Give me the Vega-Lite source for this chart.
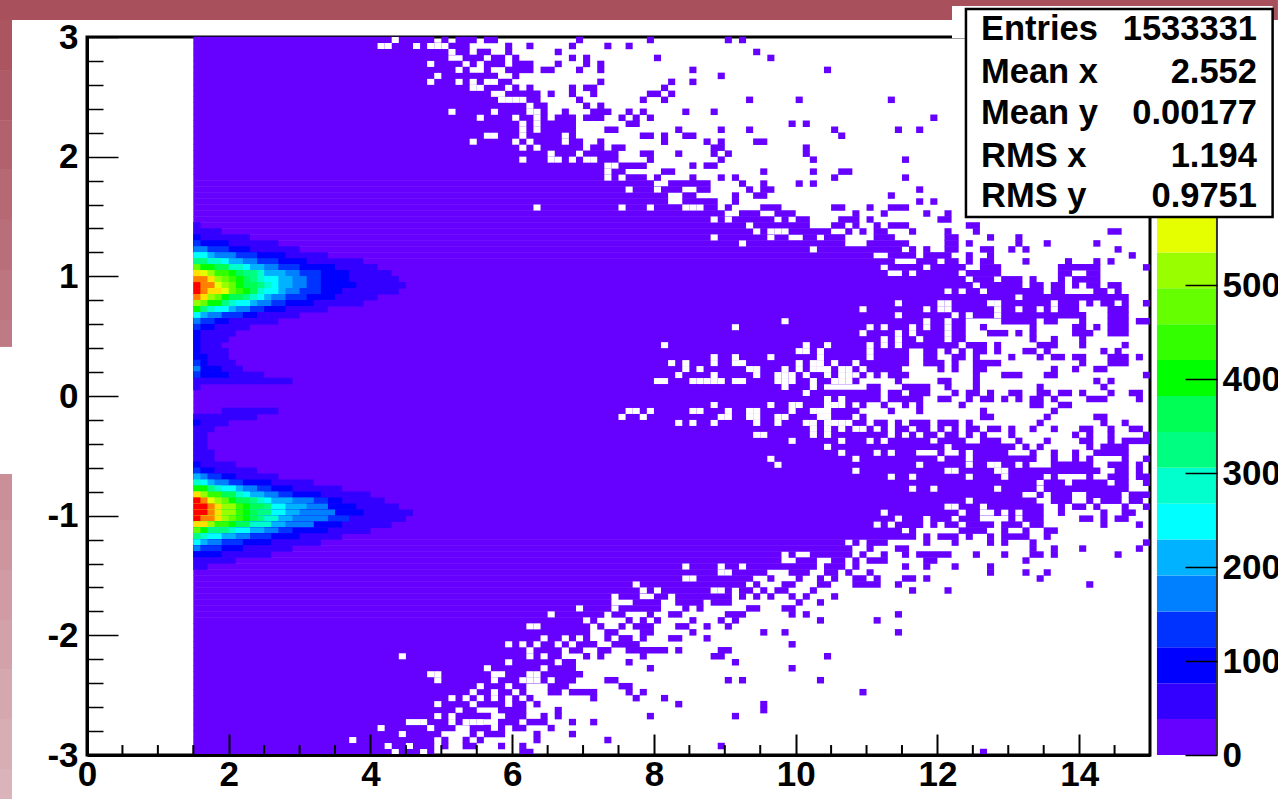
{"$schema":"https://vega.github.io/schema/vega-lite/v6.json","width":1063,"height":718,"autosize":"none","padding":{"left":87,"top":37,"right":128,"bottom":44},"background":"white","config":{"view":{"stroke":"black","strokeWidth":3},"font":"Liberation Sans"},
"datasets":{"bg":[{"x":-1.2276,"x2":16.805,"y":3.309,"y2":3.142,"s":0},{"x":-1.2276,"x2":-1.0583,"y":3.142,"y2":2.724,"s":0.05},{"x":-1.2276,"x2":-1.0583,"y":2.724,"y2":2.306,"s":0.11},{"x":-1.2276,"x2":-1.0583,"y":2.306,"y2":1.889,"s":0.18},{"x":-1.2276,"x2":-1.0583,"y":1.889,"y2":1.471,"s":0.24},{"x":-1.2276,"x2":-1.0583,"y":1.471,"y2":1.053,"s":0.3},{"x":-1.2276,"x2":-1.0583,"y":1.053,"y2":0.635,"s":0.37},{"x":-1.2276,"x2":-1.0583,"y":0.635,"y2":0.41,"s":0.42},{"x":-1.2276,"x2":-1.0583,"y":-0.652,"y2":-1.036,"s":0.62},{"x":-1.2276,"x2":-1.0583,"y":-1.036,"y2":-1.454,"s":0.68},{"x":-1.2276,"x2":-1.0583,"y":-1.454,"y2":-1.872,"s":0.74},{"x":-1.2276,"x2":-1.0583,"y":-1.872,"y2":-2.289,"s":0.8},{"x":-1.2276,"x2":-1.0583,"y":-2.289,"y2":-2.707,"s":0.86},{"x":-1.2276,"x2":-1.0583,"y":-2.707,"y2":-3.125,"s":0.92},{"x":-1.2276,"x2":-1.0583,"y":-3.125,"y2":-3.368,"s":0.98}],
"runs":[
{"x":1.5,"x2":4.9,"y":2.975},{"x":5,"x2":5.1,"y":2.975},{"x":5.2,"x2":5.5,"y":2.975},{"x":5.6,"x2":5.8,"y":2.975},{"x":6.9,"x2":7,"y":2.975},{"x":7.9,"x2":8,"y":2.975},{"x":9,"x2":9.1,"y":2.975},{"x":9.2,"x2":9.3,"y":2.975},
{"x":1.5,"x2":5.4,"y":2.925},{"x":5.9,"x2":6,"y":2.925},{"x":6.2,"x2":6.3,"y":2.925},{"x":6.8,"x2":6.9,"y":2.925},{"x":7.3,"x2":7.4,"y":2.925},{"x":7.6,"x2":7.7,"y":2.925},
{"x":1.5,"x2":5.4,"y":2.875},{"x":5.5,"x2":5.7,"y":2.875},{"x":5.9,"x2":6,"y":2.875},{"x":6.6,"x2":6.7,"y":2.875},{"x":9.4,"x2":9.5,"y":2.875},
{"x":1.5,"x2":5.1,"y":2.825},{"x":5.3,"x2":5.6,"y":2.825},{"x":5.7,"x2":5.9,"y":2.825},{"x":6,"x2":6.1,"y":2.825},{"x":6.8,"x2":6.9,"y":2.825},{"x":7,"x2":7.1,"y":2.825},{"x":8,"x2":8.1,"y":2.825},{"x":9.6,"x2":9.7,"y":2.825},
{"x":1.5,"x2":5.3,"y":2.775},{"x":5.4,"x2":5.5,"y":2.775},{"x":5.6,"x2":5.9,"y":2.775},{"x":6,"x2":6.3,"y":2.775},{"x":6.6,"x2":6.7,"y":2.775},{"x":7,"x2":7.1,"y":2.775},{"x":7.2,"x2":7.3,"y":2.775},
{"x":1.5,"x2":5.4,"y":2.725},{"x":5.6,"x2":5.7,"y":2.725},{"x":5.9,"x2":6.3,"y":2.725},{"x":6.4,"x2":6.6,"y":2.725},{"x":6.9,"x2":7,"y":2.725},{"x":7.2,"x2":7.3,"y":2.725},{"x":8.5,"x2":8.6,"y":2.725},{"x":10.4,"x2":10.5,"y":2.725},
{"x":1.5,"x2":5.8,"y":2.675},{"x":6,"x2":6.1,"y":2.675},{"x":8.9,"x2":9,"y":2.675},
{"x":1.5,"x2":6,"y":2.625},{"x":7.2,"x2":7.3,"y":2.625},{"x":8.2,"x2":8.3,"y":2.625},{"x":8.5,"x2":8.6,"y":2.625},
{"x":1.5,"x2":6.1,"y":2.575},{"x":6.2,"x2":6.3,"y":2.575},{"x":6.8,"x2":6.9,"y":2.575},{"x":7,"x2":7.2,"y":2.575},{"x":8.1,"x2":8.2,"y":2.575},
{"x":1.5,"x2":6.4,"y":2.525},{"x":6.5,"x2":6.6,"y":2.525},{"x":6.8,"x2":6.9,"y":2.525},{"x":7.1,"x2":7.2,"y":2.525},{"x":7.9,"x2":8.1,"y":2.525},{"x":8.2,"x2":8.3,"y":2.525},
{"x":1.5,"x2":6.4,"y":2.475},{"x":6.9,"x2":7,"y":2.475},{"x":7.8,"x2":7.9,"y":2.475},{"x":8.1,"x2":8.2,"y":2.475},{"x":9.3,"x2":9.4,"y":2.475},{"x":10,"x2":10.1,"y":2.475},{"x":11.3,"x2":11.4,"y":2.475},
{"x":1.5,"x2":6.5,"y":2.425},{"x":7,"x2":7.1,"y":2.425},{"x":7.2,"x2":7.3,"y":2.425},
{"x":1.5,"x2":6.5,"y":2.375},{"x":6.7,"x2":6.8,"y":2.375},{"x":7.1,"x2":7.4,"y":2.375},{"x":7.6,"x2":7.7,"y":2.375},{"x":7.8,"x2":7.9,"y":2.375},{"x":8.4,"x2":8.5,"y":2.375},{"x":8.8,"x2":8.9,"y":2.375},
{"x":1.5,"x2":6.5,"y":2.325},{"x":6.6,"x2":6.9,"y":2.325},{"x":7,"x2":7.3,"y":2.325},{"x":7.5,"x2":7.6,"y":2.325},{"x":7.7,"x2":7.8,"y":2.325},{"x":7.9,"x2":8,"y":2.325},{"x":11.9,"x2":12,"y":2.325},
{"x":1.5,"x2":6.9,"y":2.275},{"x":7.6,"x2":7.8,"y":2.275},{"x":9.9,"x2":10,"y":2.275},{"x":10.1,"x2":10.2,"y":2.275},
{"x":1.5,"x2":6.9,"y":2.225},{"x":7.3,"x2":7.5,"y":2.225},{"x":8.3,"x2":8.4,"y":2.225},{"x":8.9,"x2":9,"y":2.225},{"x":9.3,"x2":9.4,"y":2.225},{"x":10.5,"x2":10.6,"y":2.225},{"x":11.4,"x2":11.5,"y":2.225},{"x":11.7,"x2":11.8,"y":2.225},
{"x":1.5,"x2":6.9,"y":2.175},{"x":7.8,"x2":8,"y":2.175},{"x":8.1,"x2":8.2,"y":2.175},{"x":8.4,"x2":8.6,"y":2.175},{"x":10.6,"x2":10.7,"y":2.175},
{"x":1.5,"x2":7,"y":2.125},{"x":7.2,"x2":7.3,"y":2.125},{"x":8.1,"x2":8.2,"y":2.125},{"x":8.7,"x2":8.8,"y":2.125},{"x":8.9,"x2":9,"y":2.125},{"x":9.4,"x2":9.6,"y":2.125},
{"x":1.5,"x2":7,"y":2.075},{"x":7.1,"x2":7.3,"y":2.075},{"x":7.4,"x2":7.6,"y":2.075},{"x":8.8,"x2":9,"y":2.075},{"x":10.1,"x2":10.2,"y":2.075},
{"x":1.5,"x2":7.5,"y":2.025},{"x":7.8,"x2":8,"y":2.025},{"x":8.3,"x2":8.4,"y":2.025},{"x":8.8,"x2":8.9,"y":2.025},{"x":9,"x2":9.1,"y":2.025},{"x":10.1,"x2":10.2,"y":2.025},
{"x":1.5,"x2":7.5,"y":1.975},{"x":7.9,"x2":8,"y":1.975},{"x":8.9,"x2":9,"y":1.975},{"x":10.2,"x2":10.3,"y":1.975},{"x":11.5,"x2":11.6,"y":1.975},
{"x":1.5,"x2":7.9,"y":1.925},{"x":8.5,"x2":8.6,"y":1.925},{"x":8.7,"x2":8.9,"y":1.925},
{"x":1.5,"x2":7.6,"y":1.875},{"x":8.1,"x2":8.3,"y":1.875},{"x":9.5,"x2":9.6,"y":1.875},{"x":10.2,"x2":10.3,"y":1.875},{"x":10.6,"x2":10.8,"y":1.875},
{"x":1.5,"x2":7.9,"y":1.825},{"x":8,"x2":8.1,"y":1.825},{"x":8.5,"x2":8.6,"y":1.825},{"x":8.9,"x2":9,"y":1.825},{"x":9.1,"x2":9.2,"y":1.825},{"x":10.5,"x2":10.6,"y":1.825},{"x":11.5,"x2":11.6,"y":1.825},
{"x":1.5,"x2":8,"y":1.775},{"x":8.2,"x2":8.8,"y":1.775},{"x":9.2,"x2":9.3,"y":1.775},{"x":9.5,"x2":9.6,"y":1.775},{"x":10,"x2":10.1,"y":1.775},{"x":10.2,"x2":10.3,"y":1.775},
{"x":1.5,"x2":8.4,"y":1.725},{"x":8.6,"x2":8.8,"y":1.725},{"x":9.3,"x2":9.4,"y":1.725},{"x":9.5,"x2":9.7,"y":1.725},{"x":11.7,"x2":11.8,"y":1.725},
{"x":1.5,"x2":8.2,"y":1.675},{"x":8.4,"x2":8.6,"y":1.675},{"x":9.1,"x2":9.2,"y":1.675},{"x":9.4,"x2":9.6,"y":1.675},{"x":11.3,"x2":11.4,"y":1.675},
{"x":1.5,"x2":8.2,"y":1.625},{"x":8.4,"x2":8.9,"y":1.625},{"x":9.1,"x2":9.2,"y":1.625},{"x":11.7,"x2":11.8,"y":1.625},{"x":11.9,"x2":12,"y":1.625},
{"x":1.5,"x2":8.9,"y":1.575},{"x":9,"x2":9.1,"y":1.575},{"x":9.5,"x2":9.8,"y":1.575},{"x":10.5,"x2":10.7,"y":1.575},{"x":11,"x2":11.1,"y":1.575},{"x":11.3,"x2":11.6,"y":1.575},
{"x":1.5,"x2":9,"y":1.525},{"x":9.2,"x2":9.5,"y":1.525},{"x":9.7,"x2":10,"y":1.525},{"x":10.8,"x2":10.9,"y":1.525},{"x":11.2,"x2":11.3,"y":1.525},{"x":11.8,"x2":11.9,"y":1.525},{"x":12.1,"x2":12.2,"y":1.525},
{"x":1.5,"x2":9.7,"y":1.475},{"x":9.8,"x2":9.9,"y":1.475},{"x":10,"x2":10.2,"y":1.475},{"x":10.6,"x2":10.9,"y":1.475},{"x":11,"x2":11.1,"y":1.475},{"x":12,"x2":12.2,"y":1.475},
{"x":1.5,"x2":10.2,"y":1.425},{"x":10.5,"x2":10.7,"y":1.425},{"x":10.8,"x2":10.9,"y":1.425},{"x":11.1,"x2":11.2,"y":1.425},{"x":11.3,"x2":11.6,"y":1.425},{"x":12.4,"x2":12.6,"y":1.425},
{"x":1.5,"x2":10.5,"y":1.375},{"x":10.7,"x2":10.8,"y":1.375},{"x":10.9,"x2":11,"y":1.375},{"x":11.1,"x2":11.3,"y":1.375},{"x":11.6,"x2":11.7,"y":1.375},{"x":12.1,"x2":12.2,"y":1.375},{"x":12.5,"x2":12.6,"y":1.375},{"x":14.4,"x2":14.6,"y":1.375},
{"x":1.5,"x2":9.6,"y":1.325},{"x":9.7,"x2":9.9,"y":1.325},{"x":10.1,"x2":10.3,"y":1.325},{"x":10.4,"x2":10.7,"y":1.325},{"x":11.1,"x2":11.4,"y":1.325},{"x":12.1,"x2":12.3,"y":1.325},{"x":12.7,"x2":12.8,"y":1.325},{"x":13.1,"x2":13.2,"y":1.325},
{"x":1.5,"x2":10.7,"y":1.275},{"x":11,"x2":11.6,"y":1.275},{"x":12.1,"x2":12.3,"y":1.275},{"x":12.4,"x2":12.5,"y":1.275},{"x":13.1,"x2":13.2,"y":1.275},{"x":13.5,"x2":13.6,"y":1.275},{"x":14.2,"x2":14.3,"y":1.275},
{"x":1.5,"x2":11.5,"y":1.225},{"x":11.6,"x2":11.7,"y":1.225},{"x":11.8,"x2":11.9,"y":1.225},{"x":12.1,"x2":12.3,"y":1.225},{"x":12.6,"x2":12.8,"y":1.225},{"x":13,"x2":13.1,"y":1.225},{"x":13.2,"x2":13.3,"y":1.225},{"x":14.5,"x2":14.6,"y":1.225},
{"x":1.5,"x2":11.1,"y":1.175},{"x":11.3,"x2":11.7,"y":1.175},{"x":11.8,"x2":12.2,"y":1.175},{"x":12.4,"x2":12.5,"y":1.175},{"x":12.7,"x2":12.8,"y":1.175},{"x":14.7,"x2":14.8,"y":1.175},
{"x":1.5,"x2":11.4,"y":1.125},{"x":11.7,"x2":12,"y":1.125},{"x":12.1,"x2":12.3,"y":1.125},{"x":12.4,"x2":12.5,"y":1.125},{"x":12.6,"x2":12.8,"y":1.125},{"x":13.2,"x2":13.3,"y":1.125},{"x":13.8,"x2":13.9,"y":1.125},{"x":14.2,"x2":14.3,"y":1.125},{"x":14.4,"x2":14.5,"y":1.125},
{"x":1.5,"x2":11.2,"y":1.075},{"x":11.3,"x2":11.8,"y":1.075},{"x":11.9,"x2":12.4,"y":1.075},{"x":12.6,"x2":12.9,"y":1.075},{"x":13.7,"x2":14.3,"y":1.075},{"x":14.9,"x2":15,"y":1.075},
{"x":1.5,"x2":11.3,"y":1.025},{"x":11.5,"x2":11.6,"y":1.025},{"x":11.7,"x2":12.3,"y":1.025},{"x":12.4,"x2":12.9,"y":1.025},{"x":13.7,"x2":13.9,"y":1.025},{"x":14.1,"x2":14.3,"y":1.025},
{"x":1.5,"x2":12.4,"y":0.975},{"x":12.5,"x2":12.8,"y":0.975},{"x":12.9,"x2":13.2,"y":0.975},{"x":13.3,"x2":13.4,"y":0.975},{"x":13.7,"x2":13.8,"y":0.975},{"x":13.9,"x2":14.3,"y":0.975},
{"x":1.5,"x2":12.5,"y":0.925},{"x":12.6,"x2":13.2,"y":0.925},{"x":13.3,"x2":13.5,"y":0.925},{"x":13.6,"x2":13.8,"y":0.925},{"x":13.9,"x2":14,"y":0.925},{"x":14.1,"x2":14.3,"y":0.925},{"x":14.4,"x2":14.6,"y":0.925},
{"x":1.5,"x2":12.1,"y":0.875},{"x":12.2,"x2":12.3,"y":0.875},{"x":12.4,"x2":12.6,"y":0.875},{"x":12.7,"x2":13.5,"y":0.875},{"x":13.6,"x2":13.8,"y":0.875},{"x":14.2,"x2":14.4,"y":0.875},{"x":14.5,"x2":14.6,"y":0.875},
{"x":1.5,"x2":13.1,"y":0.825},{"x":13.2,"x2":14.7,"y":0.825},
{"x":1.5,"x2":14,"y":0.775},{"x":14.1,"x2":14.2,"y":0.775},{"x":14.3,"x2":14.5,"y":0.775},{"x":14.6,"x2":14.7,"y":0.775},{"x":14.9,"x2":15,"y":0.775},
{"x":1.5,"x2":14,"y":0.725},{"x":14.4,"x2":14.7,"y":0.725},
{"x":1.5,"x2":14.1,"y":0.675},{"x":14.4,"x2":14.7,"y":0.675},
{"x":1.5,"x2":12.4,"y":0.625},{"x":12.9,"x2":13.4,"y":0.625},{"x":13.5,"x2":13.7,"y":0.625},{"x":14,"x2":14.1,"y":0.625},{"x":14.4,"x2":14.7,"y":0.625},{"x":14.8,"x2":15,"y":0.625},
{"x":1.5,"x2":12.4,"y":0.575},{"x":12.6,"x2":12.7,"y":0.575},{"x":13.3,"x2":13.4,"y":0.575},{"x":13.9,"x2":14.1,"y":0.575},{"x":14.2,"x2":14.3,"y":0.575},{"x":14.4,"x2":14.7,"y":0.575},
{"x":1.5,"x2":12.4,"y":0.525},{"x":12.7,"x2":13,"y":0.525},{"x":13.1,"x2":13.2,"y":0.525},{"x":13.3,"x2":13.4,"y":0.525},{"x":13.9,"x2":14.2,"y":0.525},{"x":14.4,"x2":14.7,"y":0.525},
{"x":1.5,"x2":12.4,"y":0.475},{"x":13.3,"x2":13.4,"y":0.475},{"x":13.6,"x2":13.7,"y":0.475},{"x":14,"x2":14.1,"y":0.475},
{"x":1.5,"x2":12.7,"y":0.425},{"x":12.8,"x2":12.9,"y":0.425},{"x":13.4,"x2":13.7,"y":0.425},{"x":14,"x2":14.1,"y":0.425},{"x":14.6,"x2":14.7,"y":0.425},
{"x":1.5,"x2":11.6,"y":0.375},{"x":11.8,"x2":12,"y":0.375},{"x":12.1,"x2":12.2,"y":0.375},{"x":12.3,"x2":12.4,"y":0.375},{"x":12.5,"x2":12.7,"y":0.375},{"x":12.8,"x2":12.9,"y":0.375},{"x":13.2,"x2":13.4,"y":0.375},{"x":13.5,"x2":13.6,"y":0.375},{"x":14.3,"x2":14.4,"y":0.375},{"x":14.5,"x2":14.6,"y":0.375},
{"x":1.5,"x2":11.6,"y":0.325},{"x":11.8,"x2":12,"y":0.325},{"x":12.2,"x2":12.4,"y":0.325},{"x":12.5,"x2":12.6,"y":0.325},{"x":13,"x2":13.1,"y":0.325},{"x":13.4,"x2":13.5,"y":0.325},{"x":13.6,"x2":13.8,"y":0.325},{"x":13.9,"x2":14.1,"y":0.325},{"x":14.4,"x2":14.7,"y":0.325},{"x":14.8,"x2":14.9,"y":0.325},
{"x":1.5,"x2":11.6,"y":0.275},{"x":11.8,"x2":12.1,"y":0.275},{"x":12.2,"x2":12.3,"y":0.275},{"x":12.5,"x2":12.9,"y":0.275},{"x":14,"x2":14.1,"y":0.275},{"x":14.4,"x2":14.7,"y":0.275},
{"x":1.5,"x2":11.5,"y":0.225},{"x":12,"x2":12.1,"y":0.225},{"x":12.2,"x2":12.3,"y":0.225},{"x":12.5,"x2":12.7,"y":0.225},{"x":13.6,"x2":13.7,"y":0.225},{"x":13.9,"x2":14,"y":0.225},{"x":14.2,"x2":14.4,"y":0.225},
{"x":1.5,"x2":10.8,"y":0.175},{"x":10.9,"x2":11,"y":0.175},{"x":11.1,"x2":11.2,"y":0.175},{"x":11.3,"x2":11.6,"y":0.175},{"x":12.5,"x2":12.6,"y":0.175},{"x":12.9,"x2":13.2,"y":0.175},{"x":13.5,"x2":13.7,"y":0.175},{"x":14.9,"x2":15,"y":0.175},
{"x":1.5,"x2":10.9,"y":0.125},{"x":11.4,"x2":11.5,"y":0.125},{"x":12,"x2":12.2,"y":0.125},{"x":12.5,"x2":12.6,"y":0.125},{"x":14.2,"x2":14.3,"y":0.125},{"x":14.4,"x2":14.5,"y":0.125},
{"x":1.5,"x2":10.4,"y":0.075},{"x":11,"x2":11.2,"y":0.075},{"x":11.5,"x2":11.9,"y":0.075},{"x":12.1,"x2":12.2,"y":0.075},{"x":12.5,"x2":12.6,"y":0.075},{"x":13.4,"x2":13.5,"y":0.075},{"x":14.3,"x2":14.4,"y":0.075},
{"x":1.5,"x2":11.2,"y":0.025},{"x":11.3,"x2":11.5,"y":0.025},{"x":11.6,"x2":11.9,"y":0.025},{"x":12.2,"x2":12.3,"y":0.025},{"x":12.4,"x2":12.6,"y":0.025},{"x":12.7,"x2":12.8,"y":0.025},{"x":13,"x2":13.2,"y":0.025},{"x":13.4,"x2":13.6,"y":0.025},{"x":13.7,"x2":13.9,"y":0.025},{"x":14,"x2":14.1,"y":0.025},{"x":14.4,"x2":14.5,"y":0.025},{"x":14.7,"x2":14.9,"y":0.025},
{"x":1.5,"x2":11.2,"y":-0.025},{"x":11.3,"x2":11.8,"y":-0.025},{"x":12,"x2":12.2,"y":-0.025},{"x":12.4,"x2":12.5,"y":-0.025},{"x":12.6,"x2":12.8,"y":-0.025},{"x":12.9,"x2":13,"y":-0.025},{"x":13.1,"x2":13.2,"y":-0.025},{"x":13.3,"x2":13.5,"y":-0.025},{"x":13.6,"x2":13.7,"y":-0.025},{"x":14.1,"x2":14.4,"y":-0.025},{"x":14.8,"x2":14.9,"y":-0.025},
{"x":1.5,"x2":10.8,"y":-0.075},{"x":10.9,"x2":11,"y":-0.075},{"x":11.2,"x2":11.3,"y":-0.075},{"x":11.5,"x2":11.6,"y":-0.075},{"x":11.7,"x2":11.8,"y":-0.075},{"x":12.3,"x2":12.4,"y":-0.075},{"x":13.3,"x2":13.5,"y":-0.075},{"x":13.7,"x2":13.9,"y":-0.075},
{"x":1.5,"x2":10.9,"y":-0.125},{"x":11.3,"x2":11.4,"y":-0.125},{"x":11.7,"x2":11.8,"y":-0.125},{"x":12.6,"x2":12.7,"y":-0.125},{"x":13.6,"x2":13.7,"y":-0.125},
{"x":1.5,"x2":11,"y":-0.175},{"x":12.6,"x2":12.8,"y":-0.175},{"x":13.5,"x2":13.6,"y":-0.175},{"x":14.2,"x2":14.4,"y":-0.175},
{"x":1.5,"x2":11,"y":-0.225},{"x":11.1,"x2":11.3,"y":-0.225},{"x":11.4,"x2":11.5,"y":-0.225},{"x":11.6,"x2":11.9,"y":-0.225},{"x":12,"x2":12.3,"y":-0.225},{"x":12.4,"x2":12.5,"y":-0.225},{"x":13.4,"x2":13.5,"y":-0.225},{"x":14.3,"x2":14.4,"y":-0.225},{"x":14.6,"x2":14.7,"y":-0.225},
{"x":1.5,"x2":11.1,"y":-0.275},{"x":11.2,"x2":11.3,"y":-0.275},{"x":11.4,"x2":11.6,"y":-0.275},{"x":11.7,"x2":11.9,"y":-0.275},{"x":12,"x2":12.1,"y":-0.275},{"x":12.2,"x2":12.3,"y":-0.275},{"x":12.4,"x2":12.6,"y":-0.275},{"x":12.7,"x2":12.9,"y":-0.275},{"x":13,"x2":13.1,"y":-0.275},{"x":13.3,"x2":13.4,"y":-0.275},{"x":13.6,"x2":13.7,"y":-0.275},{"x":14,"x2":14.2,"y":-0.275},{"x":14.4,"x2":14.5,"y":-0.275},{"x":14.7,"x2":14.9,"y":-0.275},
{"x":1.5,"x2":11.3,"y":-0.325},{"x":11.4,"x2":11.5,"y":-0.325},{"x":11.6,"x2":11.7,"y":-0.325},{"x":11.8,"x2":12,"y":-0.325},{"x":12.1,"x2":12.3,"y":-0.325},{"x":12.4,"x2":12.5,"y":-0.325},{"x":12.6,"x2":12.7,"y":-0.325},{"x":13,"x2":13.1,"y":-0.325},{"x":13.9,"x2":14,"y":-0.325},{"x":14.1,"x2":14.2,"y":-0.325},{"x":14.4,"x2":14.5,"y":-0.325},{"x":14.9,"x2":15,"y":-0.325},
{"x":1.5,"x2":11.9,"y":-0.375},{"x":12,"x2":12.4,"y":-0.375},{"x":12.6,"x2":12.9,"y":-0.375},{"x":13.1,"x2":13.2,"y":-0.375},{"x":13.5,"x2":13.6,"y":-0.375},{"x":14,"x2":14.2,"y":-0.375},{"x":14.4,"x2":14.5,"y":-0.375},{"x":14.6,"x2":15,"y":-0.375},
{"x":1.5,"x2":12.1,"y":-0.425},{"x":12.2,"x2":13.1,"y":-0.425},{"x":13.2,"x2":13.3,"y":-0.425},{"x":13.4,"x2":13.5,"y":-0.425},{"x":14.1,"x2":14.2,"y":-0.425},{"x":14.3,"x2":14.7,"y":-0.425},
{"x":1.5,"x2":11.7,"y":-0.475},{"x":12,"x2":12.1,"y":-0.475},{"x":12.3,"x2":12.4,"y":-0.475},{"x":12.5,"x2":13,"y":-0.475},{"x":13.3,"x2":13.4,"y":-0.475},{"x":13.6,"x2":13.7,"y":-0.475},{"x":13.9,"x2":14,"y":-0.475},{"x":14.2,"x2":14.7,"y":-0.475},
{"x":1.5,"x2":12,"y":-0.525},{"x":12.1,"x2":12.4,"y":-0.525},{"x":12.5,"x2":13.4,"y":-0.525},{"x":13.6,"x2":13.7,"y":-0.525},{"x":13.9,"x2":14,"y":-0.525},{"x":14.1,"x2":14.2,"y":-0.525},{"x":14.6,"x2":14.7,"y":-0.525},{"x":14.9,"x2":15,"y":-0.525},
{"x":1.5,"x2":13.3,"y":-0.575},{"x":13.6,"x2":14.2,"y":-0.575},{"x":14.4,"x2":14.7,"y":-0.575},{"x":14.8,"x2":14.9,"y":-0.575},
{"x":1.5,"x2":14.3,"y":-0.625},{"x":14.5,"x2":14.7,"y":-0.625},{"x":14.8,"x2":14.9,"y":-0.625},
{"x":1.5,"x2":13.5,"y":-0.675},{"x":13.6,"x2":13.7,"y":-0.675},{"x":14.1,"x2":14.2,"y":-0.675},{"x":14.4,"x2":14.7,"y":-0.675},{"x":14.8,"x2":15,"y":-0.675},
{"x":1.5,"x2":13.4,"y":-0.725},{"x":13.5,"x2":13.8,"y":-0.725},{"x":13.9,"x2":14.4,"y":-0.725},{"x":14.5,"x2":14.7,"y":-0.725},{"x":14.9,"x2":15,"y":-0.725},
{"x":1.5,"x2":14.7,"y":-0.775},
{"x":1.5,"x2":13.2,"y":-0.825},{"x":13.4,"x2":13.5,"y":-0.825},{"x":13.6,"x2":13.9,"y":-0.825},{"x":14.1,"x2":14.6,"y":-0.825},{"x":14.7,"x2":15,"y":-0.825},
{"x":1.5,"x2":13.4,"y":-0.875},{"x":13.6,"x2":13.9,"y":-0.875},{"x":14.1,"x2":14.2,"y":-0.875},{"x":14.3,"x2":14.6,"y":-0.875},{"x":14.7,"x2":14.9,"y":-0.875},
{"x":1.5,"x2":13.5,"y":-0.925},{"x":13.7,"x2":13.8,"y":-0.925},{"x":13.9,"x2":14.1,"y":-0.925},{"x":14.2,"x2":14.3,"y":-0.925},{"x":14.6,"x2":14.7,"y":-0.925},{"x":14.9,"x2":15,"y":-0.925},
{"x":1.5,"x2":13.5,"y":-0.975},{"x":13.7,"x2":13.8,"y":-0.975},{"x":14.3,"x2":14.4,"y":-0.975},{"x":14.6,"x2":14.8,"y":-0.975},
{"x":1.5,"x2":11.8,"y":-1.025},{"x":11.9,"x2":12.2,"y":-1.025},{"x":12.3,"x2":12.6,"y":-1.025},{"x":13,"x2":13.1,"y":-1.025},{"x":13.2,"x2":13.5,"y":-1.025},{"x":14,"x2":14.2,"y":-1.025},{"x":14.3,"x2":14.4,"y":-1.025},{"x":14.5,"x2":14.7,"y":-1.025},
{"x":1.5,"x2":11.8,"y":-1.075},{"x":11.9,"x2":12,"y":-1.075},{"x":12.1,"x2":12.3,"y":-1.075},{"x":12.4,"x2":12.8,"y":-1.075},{"x":12.9,"x2":13.2,"y":-1.075},{"x":13.3,"x2":13.5,"y":-1.075},{"x":14.3,"x2":14.4,"y":-1.075},{"x":14.8,"x2":14.9,"y":-1.075},
{"x":1.5,"x2":11.5,"y":-1.125},{"x":11.6,"x2":11.7,"y":-1.125},{"x":12.3,"x2":12.7,"y":-1.125},{"x":12.9,"x2":13,"y":-1.125},{"x":13.2,"x2":13.3,"y":-1.125},{"x":13.5,"x2":13.7,"y":-1.125},
{"x":1.5,"x2":11.7,"y":-1.175},{"x":11.8,"x2":11.9,"y":-1.175},{"x":12,"x2":12.3,"y":-1.175},{"x":12.4,"x2":12.5,"y":-1.175},{"x":12.7,"x2":12.8,"y":-1.175},{"x":12.9,"x2":13.3,"y":-1.175},{"x":13.5,"x2":13.6,"y":-1.175},
{"x":1.5,"x2":10.7,"y":-1.225},{"x":10.8,"x2":10.9,"y":-1.225},{"x":11,"x2":11.3,"y":-1.225},{"x":11.8,"x2":11.9,"y":-1.225},{"x":12.2,"x2":12.3,"y":-1.225},{"x":12.7,"x2":12.8,"y":-1.225},{"x":12.9,"x2":13,"y":-1.225},{"x":13.3,"x2":13.4,"y":-1.225},{"x":14.9,"x2":15,"y":-1.225},
{"x":1.5,"x2":10.8,"y":-1.275},{"x":11,"x2":11.1,"y":-1.275},{"x":11.4,"x2":11.6,"y":-1.275},{"x":13.3,"x2":13.4,"y":-1.275},{"x":13.6,"x2":13.7,"y":-1.275},{"x":14,"x2":14.1,"y":-1.275},{"x":14.8,"x2":14.9,"y":-1.275},
{"x":1.5,"x2":9.8,"y":-1.325},{"x":9.9,"x2":10,"y":-1.325},{"x":10.2,"x2":10.8,"y":-1.325},{"x":10.9,"x2":11,"y":-1.325},{"x":11.2,"x2":11.3,"y":-1.325},{"x":11.5,"x2":11.6,"y":-1.325},{"x":11.7,"x2":12.2,"y":-1.325},{"x":12.5,"x2":12.6,"y":-1.325},{"x":12.9,"x2":13,"y":-1.325},{"x":13.3,"x2":13.5,"y":-1.325},{"x":13.6,"x2":13.7,"y":-1.325},{"x":14.5,"x2":14.6,"y":-1.325},
{"x":1.5,"x2":9.8,"y":-1.375},{"x":10,"x2":10.3,"y":-1.375},{"x":10.5,"x2":10.7,"y":-1.375},{"x":10.8,"x2":10.9,"y":-1.375},{"x":11,"x2":11.3,"y":-1.375},{"x":11.8,"x2":12,"y":-1.375},{"x":13.2,"x2":13.3,"y":-1.375},
{"x":1.5,"x2":10.3,"y":-1.425},{"x":10.4,"x2":10.7,"y":-1.425},{"x":10.8,"x2":10.9,"y":-1.425},{"x":11.5,"x2":11.6,"y":-1.425},{"x":11.8,"x2":11.9,"y":-1.425},{"x":12.2,"x2":12.3,"y":-1.425},{"x":12.7,"x2":12.8,"y":-1.425},
{"x":1.5,"x2":9.6,"y":-1.475},{"x":9.9,"x2":10.2,"y":-1.475},{"x":10.4,"x2":10.6,"y":-1.475},{"x":10.7,"x2":10.8,"y":-1.475},{"x":11,"x2":11.1,"y":-1.475},{"x":12.7,"x2":12.8,"y":-1.475},{"x":13.2,"x2":13.3,"y":-1.475},{"x":13.5,"x2":13.6,"y":-1.475},
{"x":1.5,"x2":9.4,"y":-1.525},{"x":9.6,"x2":9.7,"y":-1.525},{"x":10,"x2":10.1,"y":-1.525},{"x":10.3,"x2":10.4,"y":-1.525},{"x":10.5,"x2":10.6,"y":-1.525},{"x":10.8,"x2":11,"y":-1.525},{"x":11.1,"x2":11.2,"y":-1.525},{"x":11.5,"x2":11.7,"y":-1.525},{"x":11.8,"x2":11.9,"y":-1.525},{"x":13.4,"x2":13.5,"y":-1.525},
{"x":1.5,"x2":9.3,"y":-1.575},{"x":9.4,"x2":9.5,"y":-1.575},{"x":9.8,"x2":10,"y":-1.575},{"x":10.3,"x2":10.5,"y":-1.575},{"x":10.8,"x2":11.2,"y":-1.575},{"x":11.4,"x2":11.5,"y":-1.575},{"x":14.1,"x2":14.2,"y":-1.575},
{"x":1.5,"x2":9.1,"y":-1.625},{"x":9.2,"x2":9.4,"y":-1.625},{"x":9.5,"x2":9.6,"y":-1.625},{"x":9.7,"x2":9.9,"y":-1.625},{"x":10.2,"x2":10.3,"y":-1.625},{"x":11.6,"x2":11.7,"y":-1.625},{"x":12.1,"x2":12.2,"y":-1.625},
{"x":1.5,"x2":7.4,"y":-1.675},{"x":7.5,"x2":7.8,"y":-1.675},{"x":8,"x2":8.2,"y":-1.675},{"x":8.3,"x2":9.1,"y":-1.675},{"x":9.2,"x2":9.3,"y":-1.675},{"x":9.4,"x2":9.5,"y":-1.675},{"x":9.6,"x2":9.7,"y":-1.675},{"x":9.9,"x2":10,"y":-1.675},{"x":10.1,"x2":10.2,"y":-1.675},{"x":10.5,"x2":10.6,"y":-1.675},
{"x":1.5,"x2":7.4,"y":-1.725},{"x":7.7,"x2":8.1,"y":-1.725},{"x":8.3,"x2":8.7,"y":-1.725},{"x":8.8,"x2":9.1,"y":-1.725},{"x":10,"x2":10.1,"y":-1.725},{"x":10.3,"x2":10.4,"y":-1.725},
{"x":1.5,"x2":8.1,"y":-1.775},{"x":8.4,"x2":8.5,"y":-1.775},{"x":8.6,"x2":8.7,"y":-1.775},{"x":9.3,"x2":9.5,"y":-1.775},{"x":9.8,"x2":10,"y":-1.775},
{"x":1.5,"x2":7.3,"y":-1.825},{"x":7.4,"x2":7.6,"y":-1.825},{"x":7.9,"x2":8,"y":-1.825},{"x":8.2,"x2":8.4,"y":-1.825},{"x":9,"x2":9.3,"y":-1.825},{"x":9.9,"x2":10,"y":-1.825},{"x":10.1,"x2":10.2,"y":-1.825},{"x":11.4,"x2":11.5,"y":-1.825},
{"x":1.5,"x2":7.2,"y":-1.875},{"x":7.6,"x2":7.7,"y":-1.875},{"x":7.8,"x2":7.9,"y":-1.875},{"x":8,"x2":8.1,"y":-1.875},{"x":8.5,"x2":8.6,"y":-1.875},{"x":8.9,"x2":9,"y":-1.875},{"x":9.1,"x2":9.2,"y":-1.875},{"x":10.3,"x2":10.4,"y":-1.875},{"x":11.1,"x2":11.2,"y":-1.875},
{"x":1.5,"x2":7.1,"y":-1.925},{"x":7.2,"x2":7.3,"y":-1.925},{"x":7.5,"x2":7.6,"y":-1.925},{"x":7.7,"x2":8,"y":-1.925},{"x":8.3,"x2":8.5,"y":-1.925},{"x":8.7,"x2":8.8,"y":-1.925},{"x":9,"x2":9.1,"y":-1.925},
{"x":1.5,"x2":7.1,"y":-1.975},{"x":7.3,"x2":7.5,"y":-1.975},{"x":7.8,"x2":8,"y":-1.975},{"x":8.5,"x2":8.6,"y":-1.975},{"x":9.5,"x2":9.6,"y":-1.975},{"x":9.8,"x2":9.9,"y":-1.975},{"x":11.4,"x2":11.5,"y":-1.975},
{"x":1.5,"x2":7.1,"y":-2.025},{"x":7.3,"x2":7.4,"y":-2.025},{"x":7.5,"x2":7.7,"y":-2.025},{"x":7.8,"x2":7.9,"y":-2.025},{"x":8.2,"x2":8.4,"y":-2.025},{"x":8.7,"x2":8.8,"y":-2.025},
{"x":1.5,"x2":7.2,"y":-2.075},{"x":7.4,"x2":7.8,"y":-2.075},{"x":9.9,"x2":10,"y":-2.075},
{"x":1.5,"x2":6.7,"y":-2.125},{"x":6.8,"x2":7,"y":-2.125},{"x":7.2,"x2":7.4,"y":-2.125},{"x":7.6,"x2":8.2,"y":-2.125},{"x":8.3,"x2":8.4,"y":-2.125},{"x":8.9,"x2":9.1,"y":-2.125},
{"x":1.5,"x2":6.7,"y":-2.175},{"x":7,"x2":7.1,"y":-2.175},{"x":7.2,"x2":7.3,"y":-2.175},{"x":7.8,"x2":7.9,"y":-2.175},{"x":8.8,"x2":9,"y":-2.175},{"x":10.4,"x2":10.5,"y":-2.175},
{"x":1.5,"x2":6.9,"y":-2.225},{"x":7.6,"x2":7.7,"y":-2.225},{"x":9.1,"x2":9.2,"y":-2.225},
{"x":1.5,"x2":6.9,"y":-2.275},{"x":7.9,"x2":8,"y":-2.275},{"x":9.9,"x2":10,"y":-2.275},
{"x":1.5,"x2":7,"y":-2.325},
{"x":1.5,"x2":6.9,"y":-2.375},{"x":7.3,"x2":7.5,"y":-2.375},{"x":9,"x2":9.1,"y":-2.375},{"x":9.2,"x2":9.3,"y":-2.375},{"x":10.3,"x2":10.4,"y":-2.375},
{"x":1.5,"x2":6.2,"y":-2.425},{"x":6.5,"x2":6.8,"y":-2.425},{"x":7.5,"x2":7.7,"y":-2.425},
{"x":1.5,"x2":6.2,"y":-2.475},{"x":6.5,"x2":6.7,"y":-2.475},{"x":6.8,"x2":7.2,"y":-2.475},{"x":7.6,"x2":7.7,"y":-2.475},{"x":7.8,"x2":7.9,"y":-2.475},{"x":10.9,"x2":11,"y":-2.475},
{"x":1.5,"x2":5.9,"y":-2.525},{"x":6,"x2":6.1,"y":-2.525},{"x":6.2,"x2":6.3,"y":-2.525},{"x":7.1,"x2":7.2,"y":-2.525},{"x":7.7,"x2":7.8,"y":-2.525},{"x":8.1,"x2":8.2,"y":-2.525},
{"x":1.5,"x2":5.9,"y":-2.575},{"x":6,"x2":6.2,"y":-2.575},{"x":6.3,"x2":6.4,"y":-2.575},{"x":8.3,"x2":8.4,"y":-2.575},{"x":9.5,"x2":9.6,"y":-2.575},
{"x":1.5,"x2":5.2,"y":-2.625},{"x":5.3,"x2":5.5,"y":-2.625},{"x":5.8,"x2":6.2,"y":-2.625},{"x":6.6,"x2":6.7,"y":-2.625},{"x":9.5,"x2":9.6,"y":-2.625},
{"x":1.5,"x2":5.7,"y":-2.675},{"x":5.9,"x2":6.2,"y":-2.675},{"x":6.4,"x2":6.5,"y":-2.675},{"x":6.6,"x2":6.7,"y":-2.675},{"x":7.9,"x2":8,"y":-2.675},{"x":9.1,"x2":9.2,"y":-2.675},
{"x":1.5,"x2":5.6,"y":-2.725},{"x":5.8,"x2":6.1,"y":-2.725},{"x":6.2,"x2":6.5,"y":-2.725},{"x":6.8,"x2":6.9,"y":-2.725},{"x":7.1,"x2":7.2,"y":-2.725},
{"x":1.5,"x2":5.2,"y":-2.775},{"x":5.4,"x2":5.7,"y":-2.775},{"x":5.8,"x2":5.9,"y":-2.775},{"x":6,"x2":6.2,"y":-2.775},{"x":6.5,"x2":6.6,"y":-2.775},
{"x":1.5,"x2":5,"y":-2.825},{"x":5.4,"x2":5.5,"y":-2.825},{"x":5.6,"x2":5.9,"y":-2.825},{"x":6.3,"x2":6.4,"y":-2.825},{"x":6.8,"x2":6.9,"y":-2.825},
{"x":1.5,"x2":4.9,"y":-2.875},{"x":5,"x2":5.1,"y":-2.875},{"x":5.3,"x2":5.4,"y":-2.875},{"x":5.5,"x2":5.6,"y":-2.875},{"x":6.3,"x2":6.4,"y":-2.875},{"x":7.3,"x2":7.4,"y":-2.875},
{"x":1.5,"x2":4.9,"y":-2.925},{"x":5,"x2":5.1,"y":-2.925},{"x":5.3,"x2":5.5,"y":-2.925},{"x":5.8,"x2":5.9,"y":-2.925},{"x":6.1,"x2":6.2,"y":-2.925},{"x":8.9,"x2":9,"y":-2.925},
{"x":1.5,"x2":4.9,"y":-2.975},{"x":6.1,"x2":6.3,"y":-2.975},{"x":12.6,"x2":12.7,"y":-2.975}
],
"holes":[{"x":4.35,"y":2.975},{"x":4.15,"y":2.925},{"x":4.25,"y":2.925},{"x":4.65,"y":2.925},{"x":4.85,"y":2.925},{"x":4.95,"y":2.925},{"x":5.05,"y":2.925},{"x":5.15,"y":2.875},{"x":4.85,"y":2.775},{"x":5.25,"y":2.725},{"x":4.95,"y":2.675},{"x":4.85,"y":2.625},{"x":5.25,"y":2.625},{"x":5.45,"y":2.625},{"x":5.65,"y":2.625},{"x":5.75,"y":2.625},{"x":5.45,"y":2.575},{"x":5.55,"y":2.575},{"x":5.95,"y":2.575},{"x":5.75,"y":2.525},{"x":5.85,"y":2.525},{"x":5.85,"y":2.475},{"x":5.95,"y":2.475},{"x":6.05,"y":2.475},{"x":6.15,"y":2.475},{"x":6.25,"y":2.425},{"x":5.15,"y":2.375},{"x":5.75,"y":2.375},{"x":6.25,"y":2.375},{"x":6.35,"y":2.375},{"x":5.55,"y":2.325},{"x":6.05,"y":2.325},{"x":6.35,"y":2.325},{"x":6.15,"y":2.275},{"x":6.35,"y":2.275},{"x":6.15,"y":2.225},{"x":6.35,"y":2.225},{"x":5.65,"y":2.175},{"x":5.75,"y":2.175},{"x":6.15,"y":2.175},{"x":6.75,"y":2.175},{"x":5.45,"y":2.125},{"x":6.05,"y":2.125},{"x":6.25,"y":2.125},{"x":6.75,"y":2.125},{"x":6.15,"y":2.075},{"x":6.35,"y":2.075},{"x":6.55,"y":2.025},{"x":6.95,"y":2.025},{"x":6.15,"y":1.975},{"x":6.55,"y":1.975},{"x":6.65,"y":1.975},{"x":6.85,"y":1.975},{"x":7.05,"y":1.975},{"x":7.15,"y":1.975},{"x":7.35,"y":1.925},{"x":7.45,"y":1.925},{"x":7.35,"y":1.875},{"x":7.35,"y":1.825},{"x":7.55,"y":1.825},{"x":7.65,"y":1.725},{"x":8.05,"y":1.725},{"x":6.35,"y":1.575},{"x":7.55,"y":1.575},{"x":7.95,"y":1.575},{"x":8.45,"y":1.575},{"x":8.55,"y":1.575},{"x":8.65,"y":1.575},{"x":8.85,"y":1.475},{"x":9.05,"y":1.475},{"x":9.35,"y":1.425},{"x":9.45,"y":1.375},{"x":9.65,"y":1.375},{"x":9.75,"y":1.375},{"x":9.85,"y":1.375},{"x":8.85,"y":1.325},{"x":9.25,"y":1.275},{"x":10.25,"y":1.225},{"x":11.45,"y":0.775},{"x":12.05,"y":0.775},{"x":12.15,"y":0.775},{"x":12.75,"y":0.775},{"x":12.85,"y":0.775},{"x":13.65,"y":0.775},{"x":10.95,"y":0.725},{"x":11.85,"y":0.725},{"x":12.05,"y":0.725},{"x":12.15,"y":0.725},{"x":12.85,"y":0.725},{"x":13.15,"y":0.725},{"x":13.45,"y":0.725},{"x":13.65,"y":0.725},{"x":11.45,"y":0.675},{"x":12.25,"y":0.675},{"x":12.45,"y":0.675},{"x":12.85,"y":0.675},{"x":9.85,"y":0.625},{"x":11.85,"y":0.625},{"x":12.15,"y":0.625},{"x":9.15,"y":0.575},{"x":11.05,"y":0.575},{"x":11.25,"y":0.575},{"x":11.65,"y":0.575},{"x":11.85,"y":0.575},{"x":12.15,"y":0.575},{"x":10.95,"y":0.525},{"x":11.45,"y":0.525},{"x":11.65,"y":0.525},{"x":12.15,"y":0.525},{"x":11.25,"y":0.475},{"x":11.45,"y":0.475},{"x":11.75,"y":0.475},{"x":12.15,"y":0.475},{"x":8.15,"y":0.425},{"x":10.15,"y":0.425},{"x":10.45,"y":0.425},{"x":11.05,"y":0.425},{"x":11.25,"y":0.425},{"x":11.45,"y":0.425},{"x":12.35,"y":0.425},{"x":10.05,"y":0.375},{"x":10.15,"y":0.375},{"x":10.35,"y":0.375},{"x":11.05,"y":0.375},{"x":8.85,"y":0.325},{"x":9.15,"y":0.325},{"x":9.65,"y":0.325},{"x":10.35,"y":0.325},{"x":11.05,"y":0.325},{"x":8.25,"y":0.275},{"x":8.45,"y":0.275},{"x":8.85,"y":0.275},{"x":9.15,"y":0.275},{"x":9.25,"y":0.275},{"x":10.05,"y":0.275},{"x":10.25,"y":0.275},{"x":10.35,"y":0.275},{"x":10.55,"y":0.275},{"x":10.85,"y":0.275},{"x":8.45,"y":0.225},{"x":8.65,"y":0.225},{"x":9.35,"y":0.225},{"x":9.45,"y":0.225},{"x":9.85,"y":0.225},{"x":10.05,"y":0.225},{"x":10.25,"y":0.225},{"x":10.35,"y":0.225},{"x":10.45,"y":0.225},{"x":10.65,"y":0.225},{"x":10.75,"y":0.225},{"x":10.95,"y":0.225},{"x":8.35,"y":0.175},{"x":8.85,"y":0.175},{"x":9.45,"y":0.175},{"x":9.75,"y":0.175},{"x":9.85,"y":0.175},{"x":9.95,"y":0.175},{"x":10.15,"y":0.175},{"x":10.45,"y":0.175},{"x":10.65,"y":0.175},{"x":10.75,"y":0.175},{"x":8.05,"y":0.125},{"x":8.15,"y":0.125},{"x":8.55,"y":0.125},{"x":8.65,"y":0.125},{"x":8.75,"y":0.125},{"x":8.85,"y":0.125},{"x":8.95,"y":0.125},{"x":9.15,"y":0.125},{"x":9.25,"y":0.125},{"x":9.75,"y":0.125},{"x":9.85,"y":0.125},{"x":9.95,"y":0.125},{"x":10.25,"y":0.125},{"x":10.55,"y":0.125},{"x":10.65,"y":0.125},{"x":10.75,"y":0.125},{"x":9.85,"y":0.075},{"x":10.25,"y":0.075},{"x":10.15,"y":0.025},{"x":10.45,"y":-0.025},{"x":10.65,"y":-0.025},{"x":8.85,"y":-0.075},{"x":9.65,"y":-0.075},{"x":9.95,"y":-0.075},{"x":10.05,"y":-0.075},{"x":10.45,"y":-0.075},{"x":10.55,"y":-0.075},{"x":10.65,"y":-0.075},{"x":7.65,"y":-0.125},{"x":7.75,"y":-0.125},{"x":7.95,"y":-0.125},{"x":8.55,"y":-0.125},{"x":8.65,"y":-0.125},{"x":9.05,"y":-0.125},{"x":9.35,"y":-0.125},{"x":9.45,"y":-0.125},{"x":9.95,"y":-0.125},{"x":10.25,"y":-0.125},{"x":10.35,"y":-0.125},{"x":10.45,"y":-0.125},{"x":7.55,"y":-0.175},{"x":7.85,"y":-0.175},{"x":8.95,"y":-0.175},{"x":9.05,"y":-0.175},{"x":9.35,"y":-0.175},{"x":9.45,"y":-0.175},{"x":9.75,"y":-0.175},{"x":9.85,"y":-0.175},{"x":10.35,"y":-0.175},{"x":10.45,"y":-0.175},{"x":10.85,"y":-0.175},{"x":8.35,"y":-0.225},{"x":8.55,"y":-0.225},{"x":8.85,"y":-0.225},{"x":9.45,"y":-0.225},{"x":9.75,"y":-0.225},{"x":10.15,"y":-0.225},{"x":10.25,"y":-0.225},{"x":10.45,"y":-0.225},{"x":10.55,"y":-0.225},{"x":10.65,"y":-0.225},{"x":10.75,"y":-0.225},{"x":10.25,"y":-0.275},{"x":10.45,"y":-0.275},{"x":10.65,"y":-0.275},{"x":10.85,"y":-0.275},{"x":10.95,"y":-0.275},{"x":9.45,"y":-0.325},{"x":9.55,"y":-0.325},{"x":10.25,"y":-0.325},{"x":10.45,"y":-0.325},{"x":9.95,"y":-0.375},{"x":10.65,"y":-0.375},{"x":11.05,"y":-0.375},{"x":11.25,"y":-0.375},{"x":10.45,"y":-0.425},{"x":10.65,"y":-0.475},{"x":11.15,"y":-0.475},{"x":11.35,"y":-0.475},{"x":9.65,"y":-0.525},{"x":10.85,"y":-0.525},{"x":9.75,"y":-0.575},{"x":11.75,"y":-0.575},{"x":12.45,"y":-0.575},{"x":12.75,"y":-0.575},{"x":12.85,"y":-0.575},{"x":13.15,"y":-0.575},{"x":10.85,"y":-0.625},{"x":12.15,"y":-0.625},{"x":12.25,"y":-0.625},{"x":12.85,"y":-0.625},{"x":12.95,"y":-0.625},{"x":11.35,"y":-0.675},{"x":11.65,"y":-0.675},{"x":12.45,"y":-0.675},{"x":12.95,"y":-0.675},{"x":11.65,"y":-0.775},{"x":11.95,"y":-0.775},{"x":12.85,"y":-0.775},{"x":13.45,"y":-0.775},{"x":12.45,"y":-0.875},{"x":12.15,"y":-0.925},{"x":12.25,"y":-0.925},{"x":12.65,"y":-0.925},{"x":11.25,"y":-0.975},{"x":12.35,"y":-0.975},{"x":12.65,"y":-0.975},{"x":12.75,"y":-0.975},{"x":12.95,"y":-0.975},{"x":13.15,"y":-0.975},{"x":11.45,"y":-1.025},{"x":11.15,"y":-1.075},{"x":11.35,"y":-1.075},{"x":8.45,"y":-1.425},{"x":8.95,"y":-1.425},{"x":9.25,"y":-1.425},{"x":8.95,"y":-1.475},{"x":9.05,"y":-1.475},{"x":8.45,"y":-1.525},{"x":8.55,"y":-1.525},{"x":7.75,"y":-1.575},{"x":7.85,"y":-1.625},{"x":8.05,"y":-1.625},{"x":8.85,"y":-1.625},{"x":8.95,"y":-1.625},{"x":6.95,"y":-1.775},{"x":7.45,"y":-1.775},{"x":6.55,"y":-1.825},{"x":7.05,"y":-1.875},{"x":6.25,"y":-1.925},{"x":6.35,"y":-1.925},{"x":6.45,"y":-2.025},{"x":6.75,"y":-2.025},{"x":6.95,"y":-2.025},{"x":5.95,"y":-2.075},{"x":6.15,"y":-2.075},{"x":6.35,"y":-2.075},{"x":6.65,"y":-2.075},{"x":6.85,"y":-2.075},{"x":6.25,"y":-2.125},{"x":4.45,"y":-2.175},{"x":6.25,"y":-2.175},{"x":6.45,"y":-2.175},{"x":5.95,"y":-2.225},{"x":6.65,"y":-2.225},{"x":5.65,"y":-2.275},{"x":6.45,"y":-2.275},{"x":4.85,"y":-2.325},{"x":4.95,"y":-2.325},{"x":5.75,"y":-2.325},{"x":5.85,"y":-2.325},{"x":6.25,"y":-2.325},{"x":6.35,"y":-2.325},{"x":4.95,"y":-2.375},{"x":5.75,"y":-2.375},{"x":6.15,"y":-2.375},{"x":6.25,"y":-2.375},{"x":6.35,"y":-2.375},{"x":6.55,"y":-2.375},{"x":5.55,"y":-2.425},{"x":5.95,"y":-2.425},{"x":5.45,"y":-2.475},{"x":5.75,"y":-2.475},{"x":6.05,"y":-2.475},{"x":5.15,"y":-2.525},{"x":5.35,"y":-2.525},{"x":5.55,"y":-2.525},{"x":5.75,"y":-2.525},{"x":4.95,"y":-2.575},{"x":5.45,"y":-2.575},{"x":4.95,"y":-2.675},{"x":5.15,"y":-2.675},{"x":4.55,"y":-2.725},{"x":4.65,"y":-2.725},{"x":4.75,"y":-2.725},{"x":5.15,"y":-2.725},{"x":5.35,"y":-2.725},{"x":5.45,"y":-2.725},{"x":5.55,"y":-2.725},{"x":4.15,"y":-2.775},{"x":4.85,"y":-2.775},{"x":4.45,"y":-2.825},{"x":3.75,"y":-2.875},{"x":4.25,"y":-2.925},{"x":4.55,"y":-2.925},{"x":4.35,"y":-2.975},{"x":4.75,"y":-2.975}],
"hot":[
{"x":1.5,"x2":1.6,"y":1.425,"z":57},{"x":1.5,"x2":1.9,"y":1.375,"z":57},{"x":1.5,"x2":2.3,"y":1.325,"z":57},{"x":1.5,"x2":1.6,"y":1.325,"z":95},{"x":1.5,"x2":2.7,"y":1.275,"z":57},{"x":1.5,"x2":2,"y":1.275,"z":95},{"x":1.5,"x2":1.6,"y":1.275,"z":134},
{"x":1.5,"x2":3,"y":1.225,"z":57},{"x":1.5,"x2":2.3,"y":1.225,"z":95},{"x":1.5,"x2":2,"y":1.225,"z":134},{"x":1.5,"x2":1.7,"y":1.225,"z":172},
{"x":1.5,"x2":3.4,"y":1.175,"z":57},{"x":1.5,"x2":2.8,"y":1.175,"z":95},{"x":1.5,"x2":2.4,"y":1.175,"z":134},{"x":1.5,"x2":2.1,"y":1.175,"z":172},{"x":1.5,"x2":1.8,"y":1.175,"z":210},{"x":1.5,"x2":1.7,"y":1.175,"z":248},
{"x":1.5,"x2":3.9,"y":1.125,"z":57},{"x":1.5,"x2":3.1,"y":1.125,"z":95},{"x":1.5,"x2":2.7,"y":1.125,"z":134},{"x":1.5,"x2":2.4,"y":1.125,"z":172},{"x":1.5,"x2":2.2,"y":1.125,"z":210},{"x":1.5,"x2":2,"y":1.125,"z":248},{"x":1.5,"x2":1.9,"y":1.125,"z":286},{"x":1.5,"x2":1.7,"y":1.125,"z":325},
{"x":1.5,"x2":4.1,"y":1.075,"z":57},{"x":1.5,"x2":3.5,"y":1.075,"z":95},{"x":1.5,"x2":3,"y":1.075,"z":134},{"x":1.5,"x2":2.7,"y":1.075,"z":172},{"x":1.5,"x2":2.5,"y":1.075,"z":210},{"x":1.5,"x2":2.3,"y":1.075,"z":248},{"x":1.5,"x2":2.2,"y":1.075,"z":286},{"x":1.5,"x2":2,"y":1.075,"z":363},{"x":1.5,"x2":1.8,"y":1.075,"z":401},{"x":1.5,"x2":1.6,"y":1.075,"z":477},
{"x":1.5,"x2":4.3,"y":1.025,"z":57},{"x":1.5,"x2":3.7,"y":1.025,"z":95},{"x":1.5,"x2":3.3,"y":1.025,"z":134},{"x":1.5,"x2":3,"y":1.025,"z":172},{"x":1.5,"x2":2.8,"y":1.025,"z":210},{"x":1.5,"x2":2.5,"y":1.025,"z":286},{"x":1.5,"x2":2.4,"y":1.025,"z":325},{"x":1.5,"x2":2.2,"y":1.025,"z":363},{"x":1.5,"x2":2.1,"y":1.025,"z":401},{"x":1.5,"x2":2,"y":1.025,"z":439},{"x":1.5,"x2":1.8,"y":1.025,"z":516},{"x":1.5,"x2":1.7,"y":1.025,"z":554},{"x":1.5,"x2":1.6,"y":1.025,"z":592},
{"x":1.5,"x2":4.4,"y":0.975,"z":57},{"x":1.5,"x2":3.7,"y":0.975,"z":95},{"x":1.5,"x2":3.3,"y":0.975,"z":134},{"x":1.5,"x2":3.1,"y":0.975,"z":172},{"x":1.5,"x2":2.9,"y":0.975,"z":210},{"x":1.5,"x2":2.7,"y":0.975,"z":248},{"x":1.5,"x2":2.5,"y":0.975,"z":286},{"x":1.5,"x2":2.4,"y":0.975,"z":325},{"x":1.5,"x2":2.3,"y":0.975,"z":363},{"x":1.5,"x2":2.2,"y":0.975,"z":401},{"x":1.5,"x2":2.1,"y":0.975,"z":439},{"x":1.5,"x2":2,"y":0.975,"z":477},{"x":1.5,"x2":1.9,"y":0.975,"z":516},{"x":1.5,"x2":1.8,"y":0.975,"z":592},{"x":1.5,"x2":1.7,"y":0.975,"z":630},
{"x":1.5,"x2":4.5,"y":0.925,"z":57},{"x":1.5,"x2":3.8,"y":0.925,"z":95},{"x":1.5,"x2":3.3,"y":0.925,"z":134},{"x":1.5,"x2":3.1,"y":0.925,"z":172},{"x":1.5,"x2":2.9,"y":0.925,"z":210},{"x":1.5,"x2":2.7,"y":0.925,"z":248},{"x":1.5,"x2":2.6,"y":0.925,"z":286},{"x":1.5,"x2":2.5,"y":0.925,"z":325},{"x":1.5,"x2":2.4,"y":0.925,"z":363},{"x":1.5,"x2":2.2,"y":0.925,"z":401},{"x":1.5,"x2":2.1,"y":0.925,"z":477},{"x":1.5,"x2":2,"y":0.925,"z":516},{"x":1.5,"x2":1.9,"y":0.925,"z":554},{"x":1.5,"x2":1.8,"y":0.925,"z":630},{"x":1.5,"x2":1.6,"y":0.925,"z":746},
{"x":1.5,"x2":4.4,"y":0.875,"z":57},{"x":1.5,"x2":3.6,"y":0.875,"z":95},{"x":1.5,"x2":3.3,"y":0.875,"z":134},{"x":1.5,"x2":3,"y":0.875,"z":172},{"x":1.5,"x2":2.8,"y":0.875,"z":210},{"x":1.5,"x2":2.7,"y":0.875,"z":248},{"x":1.5,"x2":2.5,"y":0.875,"z":286},{"x":1.5,"x2":2.4,"y":0.875,"z":363},{"x":1.5,"x2":2.3,"y":0.875,"z":401},{"x":1.5,"x2":2.2,"y":0.875,"z":439},{"x":1.5,"x2":2.1,"y":0.875,"z":477},{"x":1.5,"x2":2,"y":0.875,"z":554},{"x":1.5,"x2":1.9,"y":0.875,"z":592},{"x":1.5,"x2":1.7,"y":0.875,"z":630},{"x":1.5,"x2":1.6,"y":0.875,"z":746},
{"x":1.5,"x2":4.1,"y":0.825,"z":57},{"x":1.5,"x2":3.5,"y":0.825,"z":95},{"x":1.5,"x2":3.1,"y":0.825,"z":134},{"x":1.5,"x2":2.8,"y":0.825,"z":172},{"x":1.5,"x2":2.6,"y":0.825,"z":210},{"x":1.5,"x2":2.5,"y":0.825,"z":248},{"x":1.5,"x2":2.4,"y":0.825,"z":286},{"x":1.5,"x2":2.3,"y":0.825,"z":325},{"x":1.5,"x2":2.2,"y":0.825,"z":363},{"x":1.5,"x2":2,"y":0.825,"z":401},{"x":1.5,"x2":1.9,"y":0.825,"z":477},{"x":1.5,"x2":1.8,"y":0.825,"z":516},{"x":1.5,"x2":1.7,"y":0.825,"z":592},{"x":1.5,"x2":1.6,"y":0.825,"z":630},
{"x":1.5,"x2":3.9,"y":0.775,"z":57},{"x":1.5,"x2":3.2,"y":0.775,"z":95},{"x":1.5,"x2":2.8,"y":0.775,"z":134},{"x":1.5,"x2":2.6,"y":0.775,"z":172},{"x":1.5,"x2":2.4,"y":0.775,"z":210},{"x":1.5,"x2":2.3,"y":0.775,"z":248},{"x":1.5,"x2":2.1,"y":0.775,"z":286},{"x":1.5,"x2":2,"y":0.775,"z":325},{"x":1.5,"x2":1.9,"y":0.775,"z":401},{"x":1.5,"x2":1.7,"y":0.775,"z":477},{"x":1.5,"x2":1.6,"y":0.775,"z":516},
{"x":1.5,"x2":3.4,"y":0.725,"z":57},{"x":1.5,"x2":2.8,"y":0.725,"z":95},{"x":1.5,"x2":2.5,"y":0.725,"z":134},{"x":1.5,"x2":2.3,"y":0.725,"z":172},{"x":1.5,"x2":2.1,"y":0.725,"z":210},{"x":1.5,"x2":2,"y":0.725,"z":248},{"x":1.5,"x2":1.8,"y":0.725,"z":286},{"x":1.5,"x2":1.7,"y":0.725,"z":325},{"x":1.5,"x2":1.6,"y":0.725,"z":401},
{"x":1.5,"x2":3,"y":0.675,"z":57},{"x":1.5,"x2":2.4,"y":0.675,"z":95},{"x":1.5,"x2":2.2,"y":0.675,"z":134},{"x":1.5,"x2":1.9,"y":0.675,"z":172},{"x":1.5,"x2":1.7,"y":0.675,"z":210},{"x":1.5,"x2":1.6,"y":0.675,"z":248},
{"x":1.5,"x2":2.7,"y":0.625,"z":57},{"x":1.5,"x2":2,"y":0.625,"z":95},{"x":1.5,"x2":1.8,"y":0.625,"z":134},{"x":1.5,"x2":1.6,"y":0.625,"z":172},
{"x":1.5,"x2":2.3,"y":0.575,"z":57},{"x":1.5,"x2":1.8,"y":0.575,"z":95},{"x":1.5,"x2":1.6,"y":0.575,"z":134},
{"x":1.5,"x2":2.1,"y":0.525,"z":57},{"x":1.5,"x2":1.6,"y":0.525,"z":95},{"x":1.5,"x2":2,"y":0.475,"z":57},{"x":1.5,"x2":1.6,"y":0.475,"z":95},{"x":1.5,"x2":1.9,"y":0.425,"z":57},{"x":1.5,"x2":1.6,"y":0.425,"z":95},{"x":1.5,"x2":2,"y":0.375,"z":57},{"x":1.5,"x2":1.6,"y":0.375,"z":95},{"x":1.5,"x2":2,"y":0.325,"z":57},{"x":1.5,"x2":1.7,"y":0.325,"z":95},
{"x":1.5,"x2":2.1,"y":0.275,"z":57},{"x":1.5,"x2":1.7,"y":0.275,"z":95},{"x":1.5,"x2":1.6,"y":0.275,"z":134},{"x":1.5,"x2":2.2,"y":0.225,"z":57},{"x":1.5,"x2":1.9,"y":0.225,"z":95},{"x":1.5,"x2":1.6,"y":0.225,"z":172},{"x":1.5,"x2":2.5,"y":0.175,"z":57},{"x":1.5,"x2":2,"y":0.175,"z":95},{"x":1.5,"x2":1.6,"y":0.175,"z":134},{"x":1.5,"x2":2.9,"y":0.125,"z":57},{"x":1.5,"x2":1.6,"y":0.075,"z":57},
{"x":1.9,"x2":2.7,"y":-0.125,"z":57},{"x":1.5,"x2":2.4,"y":-0.175,"z":57},{"x":1.5,"x2":2,"y":-0.225,"z":57},{"x":1.5,"x2":1.6,"y":-0.225,"z":95},{"x":1.5,"x2":1.8,"y":-0.275,"z":57},{"x":1.5,"x2":1.7,"y":-0.325,"z":57},{"x":1.5,"x2":1.7,"y":-0.375,"z":57},{"x":1.5,"x2":1.7,"y":-0.425,"z":57},{"x":1.5,"x2":1.8,"y":-0.475,"z":57},{"x":1.5,"x2":1.8,"y":-0.525,"z":57},
{"x":1.5,"x2":2.1,"y":-0.575,"z":57},{"x":1.5,"x2":1.6,"y":-0.575,"z":95},{"x":1.5,"x2":2.4,"y":-0.625,"z":57},{"x":1.5,"x2":1.8,"y":-0.625,"z":95},{"x":1.5,"x2":1.6,"y":-0.625,"z":134},
{"x":1.5,"x2":2.7,"y":-0.675,"z":57},{"x":1.5,"x2":2.1,"y":-0.675,"z":95},{"x":1.5,"x2":1.9,"y":-0.675,"z":134},{"x":1.5,"x2":1.7,"y":-0.675,"z":172},{"x":1.5,"x2":1.6,"y":-0.675,"z":210},
{"x":1.5,"x2":3.2,"y":-0.725,"z":57},{"x":1.5,"x2":2.6,"y":-0.725,"z":95},{"x":1.5,"x2":2.2,"y":-0.725,"z":134},{"x":1.5,"x2":2,"y":-0.725,"z":172},{"x":1.5,"x2":1.8,"y":-0.725,"z":210},{"x":1.5,"x2":1.7,"y":-0.725,"z":248},{"x":1.5,"x2":1.6,"y":-0.725,"z":286},
{"x":1.5,"x2":3.6,"y":-0.775,"z":57},{"x":1.5,"x2":2.9,"y":-0.775,"z":95},{"x":1.5,"x2":2.6,"y":-0.775,"z":134},{"x":1.5,"x2":2.4,"y":-0.775,"z":172},{"x":1.5,"x2":2.2,"y":-0.775,"z":210},{"x":1.5,"x2":2.1,"y":-0.775,"z":248},{"x":1.5,"x2":1.9,"y":-0.775,"z":286},{"x":1.5,"x2":1.8,"y":-0.775,"z":325},{"x":1.5,"x2":1.7,"y":-0.775,"z":401},
{"x":1.5,"x2":4,"y":-0.825,"z":57},{"x":1.5,"x2":3.3,"y":-0.825,"z":95},{"x":1.5,"x2":2.9,"y":-0.825,"z":134},{"x":1.5,"x2":2.7,"y":-0.825,"z":172},{"x":1.5,"x2":2.5,"y":-0.825,"z":210},{"x":1.5,"x2":2.3,"y":-0.825,"z":248},{"x":1.5,"x2":2.2,"y":-0.825,"z":286},{"x":1.5,"x2":2.1,"y":-0.825,"z":363},{"x":1.5,"x2":1.9,"y":-0.825,"z":439},{"x":1.5,"x2":1.7,"y":-0.825,"z":516},{"x":1.5,"x2":1.6,"y":-0.825,"z":592},
{"x":1.5,"x2":4.2,"y":-0.875,"z":57},{"x":1.5,"x2":3.6,"y":-0.875,"z":95},{"x":1.5,"x2":3.4,"y":-0.875,"z":134},{"x":1.5,"x2":3.2,"y":-0.875,"z":172},{"x":1.5,"x2":2.9,"y":-0.875,"z":210},{"x":1.5,"x2":2.6,"y":-0.875,"z":248},{"x":1.5,"x2":2.5,"y":-0.875,"z":286},{"x":1.5,"x2":2.4,"y":-0.875,"z":325},{"x":1.5,"x2":2.3,"y":-0.875,"z":363},{"x":1.5,"x2":2.1,"y":-0.875,"z":401},{"x":1.5,"x2":2,"y":-0.875,"z":477},{"x":1.5,"x2":1.9,"y":-0.875,"z":516},{"x":1.5,"x2":1.8,"y":-0.875,"z":554},{"x":1.5,"x2":1.7,"y":-0.875,"z":630},{"x":1.5,"x2":1.6,"y":-0.875,"z":746},
{"x":1.5,"x2":4.4,"y":-0.925,"z":57},{"x":1.5,"x2":3.8,"y":-0.925,"z":95},{"x":1.5,"x2":3.4,"y":-0.925,"z":172},{"x":1.5,"x2":3.1,"y":-0.925,"z":210},{"x":1.5,"x2":2.8,"y":-0.925,"z":248},{"x":1.5,"x2":2.6,"y":-0.925,"z":325},{"x":1.5,"x2":2.5,"y":-0.925,"z":363},{"x":1.5,"x2":2.3,"y":-0.925,"z":401},{"x":1.5,"x2":2.2,"y":-0.925,"z":439},{"x":1.5,"x2":2.1,"y":-0.925,"z":516},{"x":1.5,"x2":1.9,"y":-0.925,"z":592},{"x":1.5,"x2":1.8,"y":-0.925,"z":630},{"x":1.5,"x2":1.7,"y":-0.925,"z":746},
{"x":1.5,"x2":4.6,"y":-0.975,"z":57},{"x":1.5,"x2":3.9,"y":-0.975,"z":95},{"x":1.5,"x2":3.5,"y":-0.975,"z":172},{"x":1.5,"x2":3,"y":-0.975,"z":210},{"x":1.5,"x2":2.8,"y":-0.975,"z":248},{"x":1.5,"x2":2.6,"y":-0.975,"z":325},{"x":1.5,"x2":2.4,"y":-0.975,"z":363},{"x":1.5,"x2":2.3,"y":-0.975,"z":401},{"x":1.5,"x2":2.2,"y":-0.975,"z":439},{"x":1.5,"x2":2.1,"y":-0.975,"z":516},{"x":1.5,"x2":1.9,"y":-0.975,"z":592},{"x":1.5,"x2":1.8,"y":-0.975,"z":630},{"x":1.5,"x2":1.7,"y":-0.975,"z":746},
{"x":1.5,"x2":4.5,"y":-1.025,"z":57},{"x":1.5,"x2":3.7,"y":-1.025,"z":134},{"x":1.5,"x2":3.4,"y":-1.025,"z":172},{"x":1.5,"x2":2.9,"y":-1.025,"z":210},{"x":1.5,"x2":2.7,"y":-1.025,"z":286},{"x":1.5,"x2":2.5,"y":-1.025,"z":325},{"x":1.5,"x2":2.4,"y":-1.025,"z":363},{"x":1.5,"x2":2.3,"y":-1.025,"z":401},{"x":1.5,"x2":2.2,"y":-1.025,"z":439},{"x":1.5,"x2":2.1,"y":-1.025,"z":477},{"x":1.5,"x2":2,"y":-1.025,"z":516},{"x":1.5,"x2":1.9,"y":-1.025,"z":592},{"x":1.5,"x2":1.8,"y":-1.025,"z":630},{"x":1.5,"x2":1.6,"y":-1.025,"z":746},
{"x":1.5,"x2":4.3,"y":-1.075,"z":57},{"x":1.5,"x2":3.6,"y":-1.075,"z":95},{"x":1.5,"x2":3.2,"y":-1.075,"z":172},{"x":1.5,"x2":2.8,"y":-1.075,"z":210},{"x":1.5,"x2":2.6,"y":-1.075,"z":286},{"x":1.5,"x2":2.3,"y":-1.075,"z":363},{"x":1.5,"x2":2.1,"y":-1.075,"z":401},{"x":1.5,"x2":2,"y":-1.075,"z":439},{"x":1.5,"x2":1.8,"y":-1.075,"z":516},{"x":1.5,"x2":1.7,"y":-1.075,"z":592},
{"x":1.5,"x2":4,"y":-1.125,"z":57},{"x":1.5,"x2":3.4,"y":-1.125,"z":95},{"x":1.5,"x2":2.9,"y":-1.125,"z":134},{"x":1.5,"x2":2.7,"y":-1.125,"z":172},{"x":1.5,"x2":2.5,"y":-1.125,"z":210},{"x":1.5,"x2":2.3,"y":-1.125,"z":248},{"x":1.5,"x2":2.1,"y":-1.125,"z":286},{"x":1.5,"x2":2,"y":-1.125,"z":325},{"x":1.5,"x2":1.7,"y":-1.125,"z":401},{"x":1.5,"x2":1.6,"y":-1.125,"z":477},
{"x":1.5,"x2":3.6,"y":-1.175,"z":57},{"x":1.5,"x2":3,"y":-1.175,"z":95},{"x":1.5,"x2":2.6,"y":-1.175,"z":134},{"x":1.5,"x2":2.3,"y":-1.175,"z":172},{"x":1.5,"x2":2.1,"y":-1.175,"z":210},{"x":1.5,"x2":1.9,"y":-1.175,"z":248},{"x":1.5,"x2":1.7,"y":-1.175,"z":286},{"x":1.5,"x2":1.6,"y":-1.175,"z":325},
{"x":1.5,"x2":3.3,"y":-1.225,"z":57},{"x":1.5,"x2":2.6,"y":-1.225,"z":95},{"x":1.5,"x2":2.2,"y":-1.225,"z":134},{"x":1.5,"x2":1.9,"y":-1.225,"z":172},{"x":1.5,"x2":1.7,"y":-1.225,"z":210},{"x":1.5,"x2":1.6,"y":-1.225,"z":248},
{"x":1.5,"x2":2.9,"y":-1.275,"z":57},{"x":1.5,"x2":2.2,"y":-1.275,"z":95},{"x":1.5,"x2":1.9,"y":-1.275,"z":134},{"x":1.5,"x2":1.6,"y":-1.275,"z":172},
{"x":1.5,"x2":2.6,"y":-1.325,"z":57},{"x":1.5,"x2":1.9,"y":-1.325,"z":95},{"x":1.5,"x2":2.1,"y":-1.375,"z":57},{"x":1.5,"x2":1.7,"y":-1.425,"z":57}
],
"cbar":[{"x":15.098,"x2":15.945,"lo":0,"hi":38.2,"z":19},{"x":15.098,"x2":15.945,"lo":38.2,"hi":76.4,"z":57},{"x":15.098,"x2":15.945,"lo":76.4,"hi":114.6,"z":95},{"x":15.098,"x2":15.945,"lo":114.6,"hi":152.8,"z":134},{"x":15.098,"x2":15.945,"lo":152.8,"hi":191,"z":172},{"x":15.098,"x2":15.945,"lo":191,"hi":229.2,"z":210},{"x":15.098,"x2":15.945,"lo":229.2,"hi":267.4,"z":248},{"x":15.098,"x2":15.945,"lo":267.4,"hi":305.6,"z":286},{"x":15.098,"x2":15.945,"lo":305.6,"hi":343.8,"z":325},{"x":15.098,"x2":15.945,"lo":343.8,"hi":382,"z":363},{"x":15.098,"x2":15.945,"lo":382,"hi":420.2,"z":401},{"x":15.098,"x2":15.945,"lo":420.2,"hi":458.4,"z":439},{"x":15.098,"x2":15.945,"lo":458.4,"hi":496.6,"z":477},{"x":15.098,"x2":15.945,"lo":496.6,"hi":534.8,"z":516},{"x":15.098,"x2":15.945,"lo":534.8,"hi":573,"z":554},{"x":15.098,"x2":15.945,"lo":573,"hi":611.2,"z":592},{"x":15.098,"x2":15.945,"lo":611.2,"hi":649.4,"z":630},{"x":15.098,"x2":15.945,"lo":649.4,"hi":687.6,"z":668},{"x":15.098,"x2":15.945,"lo":687.6,"hi":725.8,"z":707},{"x":15.098,"x2":15.945,"lo":725.8,"hi":764,"z":746}],
"cline":[{"x":15.945,"lo":0,"hi":764}],
"xminor":[{"x":0.5,"y":-3,"y2":-2.917},{"x":1,"y":-3,"y2":-2.917},{"x":1.5,"y":-3,"y2":-2.917},{"x":2.5,"y":-3,"y2":-2.917},{"x":3,"y":-3,"y2":-2.917},{"x":3.5,"y":-3,"y2":-2.917},{"x":4.5,"y":-3,"y2":-2.917},{"x":5,"y":-3,"y2":-2.917},{"x":5.5,"y":-3,"y2":-2.917},{"x":6.5,"y":-3,"y2":-2.917},{"x":7,"y":-3,"y2":-2.917},{"x":7.5,"y":-3,"y2":-2.917},{"x":8.5,"y":-3,"y2":-2.917},{"x":9,"y":-3,"y2":-2.917},{"x":9.5,"y":-3,"y2":-2.917},{"x":10.5,"y":-3,"y2":-2.917},{"x":11,"y":-3,"y2":-2.917},{"x":11.5,"y":-3,"y2":-2.917},{"x":12.5,"y":-3,"y2":-2.917},{"x":13,"y":-3,"y2":-2.917},{"x":13.5,"y":-3,"y2":-2.917},{"x":14.5,"y":-3,"y2":-2.917}],
"yminor":[{"a":0}],
"cover":[{"x":12.206,"x2":16.73,"y":3.259,"y2":2.99}],
"stats":[{"x":12.615,"y":2.975,"t":"Entries"},{"x":12.615,"y":2.616,"t":"Mean x"},{"x":12.615,"y":2.273,"t":"Mean y"},{"x":12.615,"y":1.914,"t":"RMS x"},{"x":12.615,"y":1.579,"t":"RMS y"}],"statv":[{"x":16.51,"y":2.975,"t":"1533331"},{"x":16.51,"y":2.616,"t":"2.552"},{"x":16.51,"y":2.273,"t":"0.00177"},{"x":16.51,"y":1.914,"t":"1.194"},{"x":16.51,"y":1.579,"t":"0.9751"}],"box":[{"x":12.403,"x2":16.73,"y":3.234,"y2":1.496}]},
"layer":[
{"data":{"name":"bg"},"mark":{"type":"rect"},"encoding":{"x":{"field":"x","type":"quantitative","scale":{"domain":[0,15],"nice":false,"zero":false},"axis":{"values":[0,2,4,6,8,10,12,14],"title":null,"grid":false,"tickSize":-21,"tickColor":"black","tickWidth":2,"domainColor":"black","domainWidth":3,"labelFont":"Liberation Sans","labelFontWeight":"bold","labelFontSize":35,"labelColor":"black","labelPadding":23,"labelFlush":false,"labelExpr":"''+datum.value","zindex":1}},"x2":{"field":"x2"},"y":{"field":"y","type":"quantitative","scale":{"domain":[-3,3],"nice":false,"zero":false},"axis":{"orient":"left","values":[-3,-2,-1,0,1,2,3],"title":null,"grid":false,"tickSize":-31,"tickColor":"black","tickWidth":1.5,"domainColor":"black","domainWidth":3,"labelFont":"Liberation Sans","labelFontWeight":"bold","labelFontSize":35,"labelColor":"black","labelPadding":40,"labelFlush":false,"labelExpr":"''+datum.value","zindex":1}},"y2":{"field":"y2"},"color":{"field":"s","type":"quantitative","legend":null,"scale":{"domain":[0,1],"range":["#a8505c","#dcb6bd"]}}}},
{"data":{"name":"yminor"},"mark":{"type":"point","opacity":0},"encoding":{"x":{"field":"a","type":"quantitative"},"y":{"field":"a","type":"quantitative","scale":{"domain":[-3,3],"nice":false,"zero":false},"axis":{"orient":"left","values":[-2.8,-2.6,-2.4,-2.2,-1.8,-1.6,-1.4,-1.2,-0.8,-0.6,-0.4,-0.2,0.2,0.4,0.6,0.8,1.2,1.4,1.6,1.8,2.2,2.4,2.6,2.8],"labels":false,"title":null,"grid":false,"domain":false,"tickSize":-16,"tickColor":"black","tickWidth":1.5,"zindex":1}}}},
{"data":{"name":"runs"},"mark":{"type":"rect","height":6.5,"color":"#6600ff"},"encoding":{"x":{"field":"x","type":"quantitative"},"x2":{"field":"x2"},"y":{"field":"y","type":"quantitative","scale":{"domain":[-3,3],"nice":false,"zero":false},"axis":null}}},
{"data":{"name":"holes"},"mark":{"type":"rect","width":7.1,"height":6,"color":"white"},"encoding":{"x":{"field":"x","type":"quantitative"},"y":{"field":"y","type":"quantitative","scale":{"domain":[-3,3],"nice":false,"zero":false},"axis":null}}},
{"data":{"name":"hot"},"mark":{"type":"rect","height":6.5},"encoding":{"x":{"field":"x","type":"quantitative"},"x2":{"field":"x2"},"y":{"field":"y","type":"quantitative","scale":{"domain":[-3,3],"nice":false,"zero":false},"axis":null},"color":{"field":"z","type":"quantitative","legend":null,"scale":{"type":"threshold","domain":[38,76,115,153,191,229,267,306,344,382,420,458,497,535,573,611,650,688,726],"range":["#6600ff","#3300ff","#0000ff","#0033ff","#0080ff","#00b2ff","#00ffff","#00ffcc","#00ff80","#00ff55","#00ff00","#33ff00","#66ff00","#99ff00","#e5ff00","#ffe000","#ff8000","#ff6000","#ff3000","#ff0000"]}}}},
{"data":{"name":"xminor"},"mark":{"type":"rule","color":"black","strokeWidth":2},"encoding":{"x":{"field":"x","type":"quantitative"},"y":{"field":"y","type":"quantitative","scale":{"domain":[-3,3],"nice":false,"zero":false},"axis":null},"y2":{"field":"y2"}}},
{"data":{"name":"cbar"},"mark":{"type":"rect"},"encoding":{"x":{"field":"x","type":"quantitative"},"x2":{"field":"x2"},"y":{"field":"lo","type":"quantitative","scale":{"domain":[0,764],"nice":false,"zero":false},"axis":{"orient":"right","offset":67,"values":[0,100,200,300,400,500],"title":null,"grid":false,"domain":false,"tickSize":-32,"tickColor":"black","tickWidth":1.5,"labelFont":"Liberation Sans","labelFontWeight":"bold","labelFontSize":35,"labelColor":"black","labelPadding":37,"labelFlush":false,"zindex":1}},"y2":{"field":"hi"},"color":{"field":"z","type":"quantitative","legend":null,"scale":{"type":"threshold","domain":[38,76,115,153,191,229,267,306,344,382,420,458,497,535,573,611,650,688,726],"range":["#6600ff","#3300ff","#0000ff","#0033ff","#0080ff","#00b2ff","#00ffff","#00ffcc","#00ff80","#00ff55","#00ff00","#33ff00","#66ff00","#99ff00","#e5ff00","#ffe000","#ff8000","#ff6000","#ff3000","#ff0000"]}}}},
{"data":{"name":"cline"},"mark":{"type":"rule","color":"#333333","strokeWidth":2},"encoding":{"x":{"field":"x","type":"quantitative"},"y":{"field":"lo","type":"quantitative","scale":{"domain":[0,764],"nice":false,"zero":false},"axis":null},"y2":{"field":"hi"}}},
{"data":{"name":"cover"},"mark":{"type":"rect","color":"white"},"encoding":{"x":{"field":"x","type":"quantitative"},"x2":{"field":"x2"},"y":{"field":"y","type":"quantitative","scale":{"domain":[-3,3],"nice":false,"zero":false},"axis":null},"y2":{"field":"y2"}}},
{"data":{"name":"box"},"mark":{"type":"rect","fill":"white","stroke":"black","strokeWidth":2.5},"encoding":{"x":{"field":"x","type":"quantitative"},"x2":{"field":"x2"},"y":{"field":"y","type":"quantitative","scale":{"domain":[-3,3],"nice":false,"zero":false},"axis":null},"y2":{"field":"y2"}}},
{"data":{"name":"stats"},"mark":{"type":"text","align":"left","baseline":"alphabetic","font":"Liberation Sans","fontWeight":"bold","fontSize":34.5,"color":"black"},"encoding":{"x":{"field":"x","type":"quantitative"},"y":{"field":"y","type":"quantitative","scale":{"domain":[-3,3],"nice":false,"zero":false},"axis":null},"text":{"field":"t"}}},
{"data":{"name":"statv"},"mark":{"type":"text","align":"right","baseline":"alphabetic","font":"Liberation Sans","fontWeight":"bold","fontSize":34.5,"color":"black"},"encoding":{"x":{"field":"x","type":"quantitative"},"y":{"field":"y","type":"quantitative","scale":{"domain":[-3,3],"nice":false,"zero":false},"axis":null},"text":{"field":"t"}}}
],"resolve":{"scale":{"y":"independent","color":"independent"},"axis":{"y":"independent"}}}
